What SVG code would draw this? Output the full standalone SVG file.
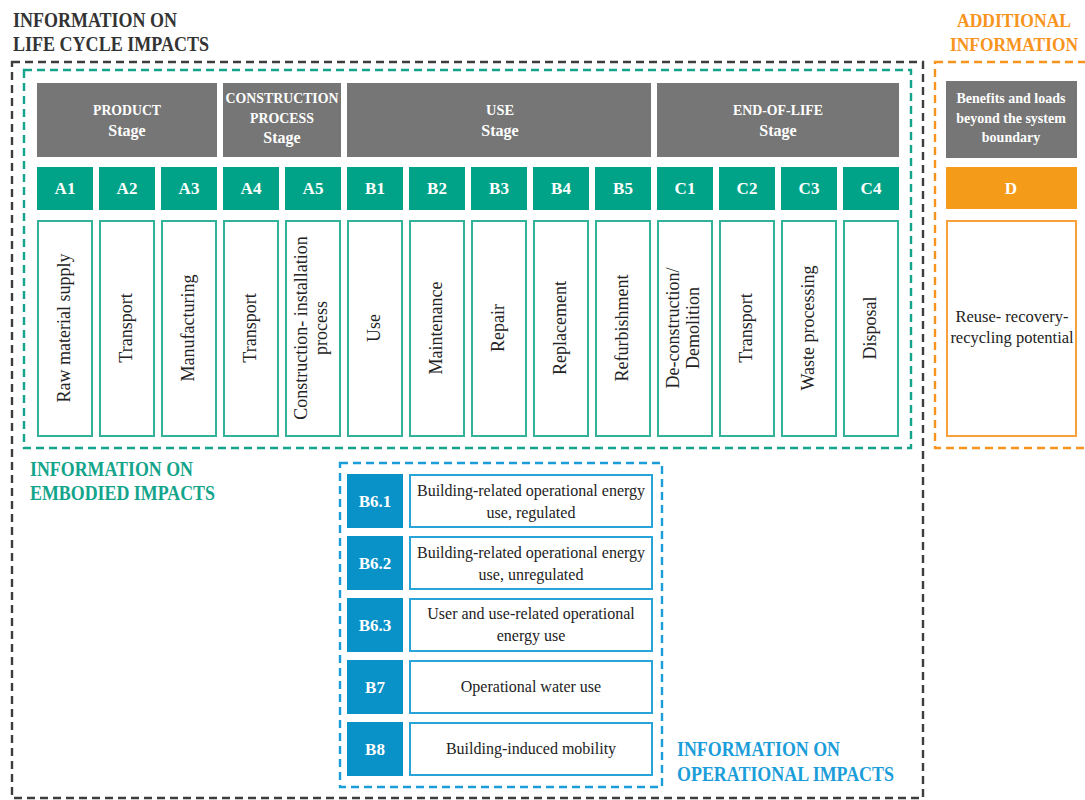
<svg xmlns="http://www.w3.org/2000/svg" width="1085" height="800" viewBox="0 0 1085 800" font-family="'Liberation Serif', 'DejaVu Serif', serif">
<style>
text{font-family:'Liberation Serif','DejaVu Serif',serif}
.lbl{font-size:20px;font-weight:bold}
.hdr{fill:#767676}
.hcap{font-size:15px;font-weight:bold;fill:#fff;text-anchor:middle}
.hstg{font-size:16px;font-weight:bold;fill:#fff;text-anchor:middle}
.code{fill:#00a388}
.ctx{font-size:17px;font-weight:bold;fill:#fff;text-anchor:middle}
.desc{fill:#fff;stroke:#33b29a;stroke-width:2}
.vt{font-size:18px;fill:#222;text-anchor:middle}
.bcode{fill:#0892c8}
.bdesc{fill:#fff;stroke:#2aa3d9;stroke-width:2}
.bt{font-size:16px;fill:#222;text-anchor:middle}
.dash{fill:none;stroke-width:2.4;stroke-dasharray:8 5}
</style>

<g id="frames">
<rect class="dash" x="12" y="62" width="911" height="736" stroke="#3d3d3d"/>
<rect class="dash" x="24" y="70" width="887" height="378" stroke="#13a48b"/>
<rect class="dash" x="935" y="62" width="200" height="386" stroke="#f7941d"/>
<rect class="dash" x="340" y="463" width="322" height="324" stroke="#1b9dd9"/>
</g>

<g id="labels">
<text class="lbl" fill="#333" x="13" y="27" textLength="164" lengthAdjust="spacingAndGlyphs">INFORMATION ON</text>
<text class="lbl" fill="#333" x="13" y="51" textLength="196" lengthAdjust="spacingAndGlyphs">LIFE CYCLE IMPACTS</text>
<text class="lbl" fill="#f7941d" style="font-size:18px" x="957" y="27" textLength="114" lengthAdjust="spacingAndGlyphs">ADDITIONAL</text>
<text class="lbl" fill="#f7941d" style="font-size:18px" x="950" y="51" textLength="128" lengthAdjust="spacingAndGlyphs">INFORMATION</text>
<text class="lbl" fill="#13a48b" x="30" y="476" textLength="163" lengthAdjust="spacingAndGlyphs">INFORMATION ON</text>
<text class="lbl" fill="#13a48b" x="30" y="500" textLength="185" lengthAdjust="spacingAndGlyphs">EMBODIED IMPACTS</text>
<text class="lbl" fill="#1b9dd9" x="677" y="756" textLength="163" lengthAdjust="spacingAndGlyphs">INFORMATION ON</text>
<text class="lbl" fill="#1b9dd9" x="677" y="781" textLength="217" lengthAdjust="spacingAndGlyphs">OPERATIONAL IMPACTS</text>
</g>

<g id="stage-product">
<rect class="hdr" x="37" y="83" width="180" height="74"/>
<text class="hcap" x="127" y="115" textLength="68" lengthAdjust="spacingAndGlyphs">PRODUCT</text>
<text class="hstg" x="127" y="136">Stage</text>
</g>
<g id="stage-construction">
<rect class="hdr" x="223" y="83" width="118" height="74"/>
<text class="hcap" x="282" y="103" textLength="113" lengthAdjust="spacingAndGlyphs">CONSTRUCTION</text>
<text class="hcap" x="282" y="123" textLength="64" lengthAdjust="spacingAndGlyphs">PROCESS</text>
<text class="hstg" x="282" y="143">Stage</text>
</g>
<g id="stage-use">
<rect class="hdr" x="347" y="83" width="304" height="74"/>
<text class="hcap" x="500" y="115" textLength="28" lengthAdjust="spacingAndGlyphs">USE</text>
<text class="hstg" x="500" y="136">Stage</text>
</g>
<g id="stage-eol">
<rect class="hdr" x="657" y="83" width="242" height="74"/>
<text class="hcap" x="778" y="115" textLength="90" lengthAdjust="spacingAndGlyphs">END-OF-LIFE</text>
<text class="hstg" x="778" y="136">Stage</text>
</g>
<g id="stage-beyond">
<rect class="hdr" x="946" y="81" width="131" height="77"/>
<text class="hstg" style="font-size:14px" x="1011" y="103">Benefits and loads</text>
<text class="hstg" style="font-size:14px" x="1011" y="123">beyond the system</text>
<text class="hstg" style="font-size:14px" x="1011" y="142">boundary</text>
</g>

<g id="A1"><rect class="code" x="37" y="167" width="56" height="43"/><text class="ctx" x="65" y="194">A1</text>
<rect class="desc" x="38" y="221" width="54" height="215"/><text class="vt" transform="translate(70,328) rotate(-90)">Raw material supply</text></g>
<g id="A2"><rect class="code" x="99" y="167" width="56" height="43"/><text class="ctx" x="127" y="194">A2</text>
<rect class="desc" x="100" y="221" width="54" height="215"/><text class="vt" transform="translate(132,328) rotate(-90)">Transport</text></g>
<g id="A3"><rect class="code" x="161" y="167" width="56" height="43"/><text class="ctx" x="189" y="194">A3</text>
<rect class="desc" x="162" y="221" width="54" height="215"/><text class="vt" transform="translate(194,328) rotate(-90)">Manufacturing</text></g>
<g id="A4"><rect class="code" x="223" y="167" width="56" height="43"/><text class="ctx" x="251" y="194">A4</text>
<rect class="desc" x="224" y="221" width="54" height="215"/><text class="vt" transform="translate(256,328) rotate(-90)">Transport</text></g>
<g id="A5"><rect class="code" x="285" y="167" width="56" height="43"/><text class="ctx" x="313" y="194">A5</text>
<rect class="desc" x="286" y="221" width="54" height="215"/><text class="vt" transform="translate(307,328) rotate(-90)">Construction- installation</text><text class="vt" transform="translate(327,328) rotate(-90)">process</text></g>
<g id="B1"><rect class="code" x="347" y="167" width="56" height="43"/><text class="ctx" x="375" y="194">B1</text>
<rect class="desc" x="348" y="221" width="54" height="215"/><text class="vt" transform="translate(380,328) rotate(-90)">Use</text></g>
<g id="B2"><rect class="code" x="409" y="167" width="56" height="43"/><text class="ctx" x="437" y="194">B2</text>
<rect class="desc" x="410" y="221" width="54" height="215"/><text class="vt" transform="translate(442,328) rotate(-90)">Maintenance</text></g>
<g id="B3"><rect class="code" x="471" y="167" width="56" height="43"/><text class="ctx" x="499" y="194">B3</text>
<rect class="desc" x="472" y="221" width="54" height="215"/><text class="vt" transform="translate(504,328) rotate(-90)">Repair</text></g>
<g id="B4"><rect class="code" x="533" y="167" width="56" height="43"/><text class="ctx" x="561" y="194">B4</text>
<rect class="desc" x="534" y="221" width="54" height="215"/><text class="vt" transform="translate(566,328) rotate(-90)">Replacement</text></g>
<g id="B5"><rect class="code" x="595" y="167" width="56" height="43"/><text class="ctx" x="623" y="194">B5</text>
<rect class="desc" x="596" y="221" width="54" height="215"/><text class="vt" transform="translate(628,328) rotate(-90)">Refurbishment</text></g>
<g id="C1"><rect class="code" x="657" y="167" width="56" height="43"/><text class="ctx" x="685" y="194">C1</text>
<rect class="desc" x="658" y="221" width="54" height="215"/><text class="vt" transform="translate(679,328) rotate(-90)">De-construction/</text><text class="vt" transform="translate(699,328) rotate(-90)">Demolition</text></g>
<g id="C2"><rect class="code" x="719" y="167" width="56" height="43"/><text class="ctx" x="747" y="194">C2</text>
<rect class="desc" x="720" y="221" width="54" height="215"/><text class="vt" transform="translate(752,328) rotate(-90)">Transport</text></g>
<g id="C3"><rect class="code" x="781" y="167" width="56" height="43"/><text class="ctx" x="809" y="194">C3</text>
<rect class="desc" x="782" y="221" width="54" height="215"/><text class="vt" transform="translate(814,328) rotate(-90)">Waste processing</text></g>
<g id="C4"><rect class="code" x="843" y="167" width="56" height="43"/><text class="ctx" x="871" y="194">C4</text>
<rect class="desc" x="844" y="221" width="54" height="215"/><text class="vt" transform="translate(876,328) rotate(-90)">Disposal</text></g>

<g id="D"><rect x="946" y="167" width="131" height="42" fill="#f59b1a"/><text class="ctx" x="1011" y="194">D</text>
<rect x="947" y="221" width="129" height="215" fill="#fff" stroke="#f8a13c" stroke-width="2"/>
<text class="vt" style="font-size:16.5px" x="1012" y="322">Reuse- recovery-</text>
<text class="vt" style="font-size:16.5px" x="1012" y="343">recycling potential</text></g>

<g id="B6.1"><rect class="bcode" x="347" y="474" width="56" height="54"/><text class="ctx" x="375" y="507">B6.1</text>
<rect class="bdesc" x="410" y="475" width="242" height="52"/><text class="bt" x="531" y="496">Building-related operational energy</text><text class="bt" x="531" y="518">use, regulated</text></g>
<g id="B6.2"><rect class="bcode" x="347" y="536" width="56" height="54"/><text class="ctx" x="375" y="569">B6.2</text>
<rect class="bdesc" x="410" y="537" width="242" height="52"/><text class="bt" x="531" y="558">Building-related operational energy</text><text class="bt" x="531" y="580">use, unregulated</text></g>
<g id="B6.3"><rect class="bcode" x="347" y="598" width="56" height="54"/><text class="ctx" x="375" y="631">B6.3</text>
<rect class="bdesc" x="410" y="599" width="242" height="52"/><text class="bt" x="531" y="619">User and use-related operational</text><text class="bt" x="531" y="641">energy use</text></g>
<g id="B7"><rect class="bcode" x="347" y="660" width="56" height="54"/><text class="ctx" x="375" y="693">B7</text>
<rect class="bdesc" x="410" y="661" width="242" height="52"/><text class="bt" x="531" y="692">Operational water use</text></g>
<g id="B8"><rect class="bcode" x="347" y="722" width="56" height="54"/><text class="ctx" x="375" y="755">B8</text>
<rect class="bdesc" x="410" y="723" width="242" height="52"/><text class="bt" x="531" y="754">Building-induced mobility</text></g>

<g id="connectors"></g>
</svg>
